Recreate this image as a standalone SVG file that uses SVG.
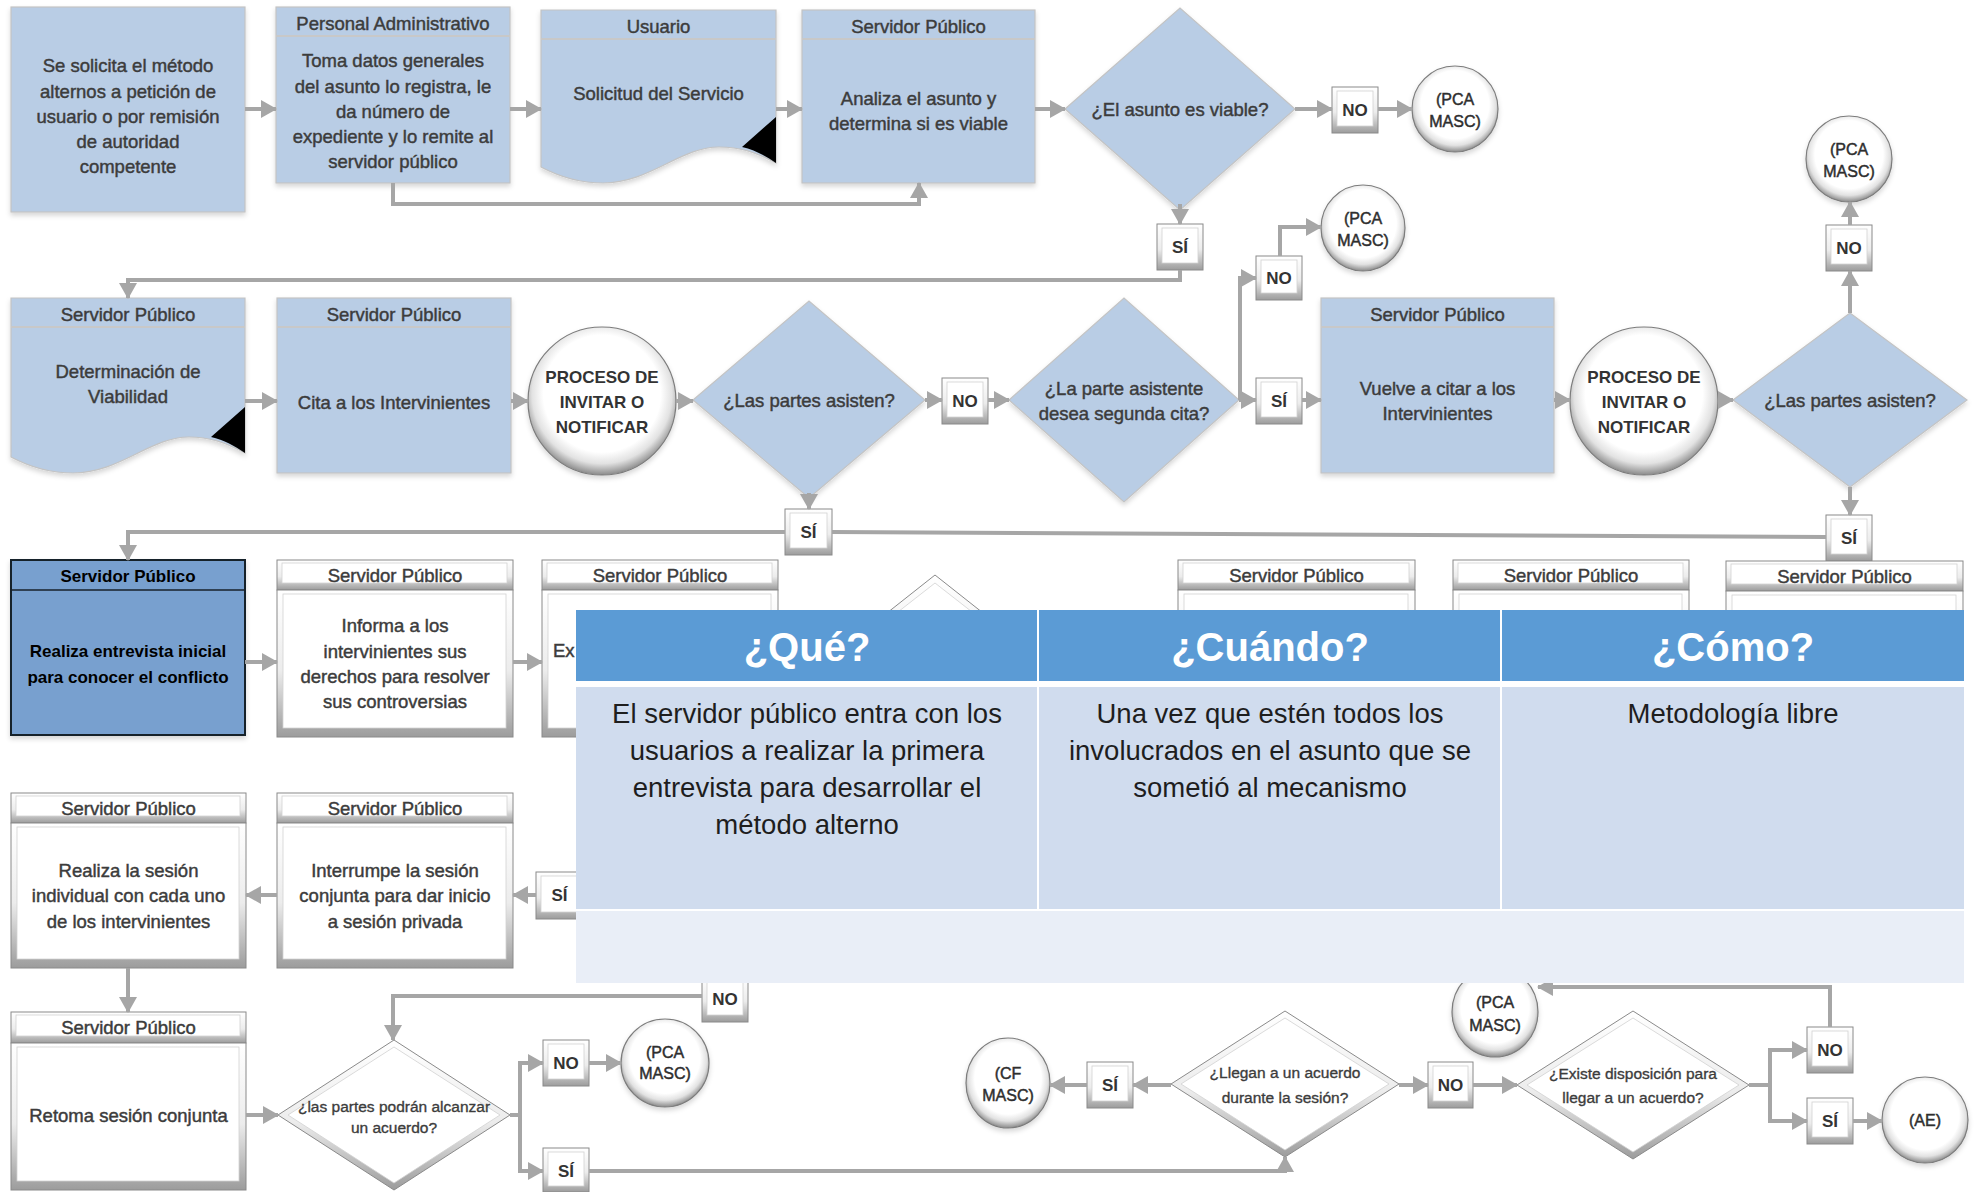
<svg xmlns="http://www.w3.org/2000/svg" width="1979" height="1192" viewBox="0 0 1979 1192">
  <defs>
    <style>
      .bx { fill:#b9cde5; stroke:#c4c4c4; stroke-width:1.2; }
      .sep { stroke:#c8c8c8; stroke-width:2; fill:none; }
      .bo { fill:url(#bev); stroke:#8a8a8a; stroke-width:1; }
      .bi { fill:#ffffff; stroke:#d2d2d2; stroke-width:0.8; }
      .orb { fill:url(#orb); stroke:#7c7c7c; stroke-width:1.2; }
      .t { font-family:"Liberation Sans", Arial, sans-serif; font-size:18.5px; fill:#3c3c3c; text-anchor:middle; stroke:#3c3c3c; stroke-width:0.45; }
      .tb { font-family:"Liberation Sans", Arial, sans-serif; font-size:17px; font-weight:bold; fill:#333333; text-anchor:middle; }
      .tc { font-family:"Liberation Sans", Arial, sans-serif; font-size:16px; fill:#2e2e2e; text-anchor:middle; stroke:#2e2e2e; stroke-width:0.45; }
      .ts { font-family:"Liberation Sans", Arial, sans-serif; font-size:15.5px; fill:#3c3c3c; text-anchor:middle; stroke:#3c3c3c; stroke-width:0.35; }
      .tk { font-family:"Liberation Sans", Arial, sans-serif; font-size:17px; font-weight:bold; fill:#000000; text-anchor:middle; }
      .th { font-family:"Liberation Sans", Arial, sans-serif; font-size:40px; font-weight:bold; fill:#ffffff; text-anchor:middle; }
      .tr { font-family:"Liberation Sans", Arial, sans-serif; font-size:27.5px; fill:#1e1e1e; text-anchor:middle; }
      .conn { stroke:#a6a6a6; stroke-width:4; fill:none; }
      .conn path.a { marker-end:url(#ah); }
    </style>
    <linearGradient id="bev" x1="0" y1="0" x2="0" y2="1">
      <stop offset="0" stop-color="#ffffff"/>
      <stop offset="0.55" stop-color="#ececec"/>
      <stop offset="1" stop-color="#9c9c9c"/>
    </linearGradient>
    <radialGradient id="orb" cx="0.5" cy="0.45" r="0.55">
      <stop offset="0" stop-color="#ffffff"/>
      <stop offset="0.72" stop-color="#ffffff"/>
      <stop offset="0.86" stop-color="#e2e2e2"/>
      <stop offset="1" stop-color="#8a8a8a"/>
    </radialGradient>
    <filter id="sh" x="-10%" y="-10%" width="120%" height="125%">
      <feDropShadow dx="0" dy="3" stdDeviation="2.5" flood-color="#000000" flood-opacity="0.16"/>
    </filter>
    <marker id="ah" markerUnits="userSpaceOnUse" markerWidth="16" markerHeight="18" refX="15" refY="9" orient="auto">
      <path d="M0,0 L16,9 L0,18 Z" fill="#a6a6a6"/>
    </marker>
  </defs>

  <rect width="1979" height="1192" fill="#ffffff"/>

  <!-- ===== Row 1 ===== -->
  <g id="solicitud-inicio">
    <rect class="bx" x="11" y="7" width="234" height="205" filter="url(#sh)"/>
    <text class="t" x="128" y="71.5">Se solicita el método</text>
    <text class="t" x="128" y="97.5">alternos a petición de</text>
    <text class="t" x="128" y="122.5">usuario o por remisión</text>
    <text class="t" x="128" y="147.5">de autoridad</text>
    <text class="t" x="128" y="172.5">competente</text>
  </g>

  <g id="personal-admin">
    <rect class="bx" x="276" y="7" width="234" height="176" filter="url(#sh)"/>
    <path class="sep" d="M276,36 H510"/>
    <text class="t" x="393" y="29.5">Personal Administrativo</text>
    <text class="t" x="393" y="66.5">Toma datos generales</text>
    <text class="t" x="393" y="92.5">del asunto lo registra, le</text>
    <text class="t" x="393" y="117.5">da número de</text>
    <text class="t" x="393" y="142.5">expediente y lo remite al</text>
    <text class="t" x="393" y="167.5">servidor público</text>
  </g>

  <g id="usuario-solicitud">
    <path class="bx" filter="url(#sh)" d="M541,10 H776 V163 C756,152 740,147 719,147 C680,147 650,183 603,183 C578,183 558,176 541,167 Z"/>
    <path class="sep" d="M541,39 H776"/>
    <path d="M776,117 L742,147 C755,150 766,156 776,163 Z" fill="#000000"/>
    <text class="t" x="658.5" y="32.5">Usuario</text>
    <text class="t" x="658.5" y="99.5">Solicitud del Servicio</text>
  </g>

  <g id="analiza-asunto">
    <rect class="bx" x="802" y="10" width="233" height="173" filter="url(#sh)"/>
    <path class="sep" d="M802,39 H1035"/>
    <text class="t" x="918.5" y="32.5">Servidor Público</text>
    <text class="t" x="918.5" y="104.5">Analiza el asunto y</text>
    <text class="t" x="918.5" y="129.5">determina si es viable</text>
  </g>

  <g id="dec-viable">
    <polygon class="bx" points="1065,109 1180,8 1295,109 1180,210" filter="url(#sh)"/>
    <text class="t" x="1180" y="115.5">¿El asunto es viable?</text>
  </g>

  <g id="no-viable">
    <rect class="bo" x="1332" y="87" width="46" height="46"/>
    <rect class="bi" x="1337" y="91" width="36" height="35"/>
    <text class="tb" x="1355" y="116">NO</text>
  </g>
  <g id="pca-1">
    <ellipse class="orb" cx="1455" cy="109" rx="43" ry="43" filter="url(#sh)"/>
    <text class="tc" x="1455" y="104.5">(PCA</text>
    <text class="tc" x="1455" y="126.5">MASC)</text>
  </g>
  <g id="si-viable">
    <rect class="bo" x="1157" y="224" width="46" height="46"/>
    <rect class="bi" x="1162" y="228" width="36" height="35"/>
    <text class="tb" x="1180" y="253">SÍ</text>
  </g>

  <!-- ===== Row 2 ===== -->
  <g id="det-viabilidad">
    <path class="bx" filter="url(#sh)" d="M11,298 H245 V453 C225,442 209,437 189,437 C150,437 120,473 73,473 C48,473 28,466 11,457 Z"/>
    <path class="sep" d="M11,327 H245"/>
    <path d="M245,407 L211,437 C224,440 235,446 245,453 Z" fill="#000000"/>
    <text class="t" x="128" y="320.5">Servidor Público</text>
    <text class="t" x="128" y="377.5">Determinación de</text>
    <text class="t" x="128" y="402.5">Viabilidad</text>
  </g>

  <g id="cita-intervinientes">
    <rect class="bx" x="277" y="298" width="234" height="175" filter="url(#sh)"/>
    <path class="sep" d="M277,327 H511"/>
    <text class="t" x="394" y="320.5">Servidor Público</text>
    <text class="t" x="394" y="408.5">Cita a los Intervinientes</text>
  </g>

  <g id="proceso-1">
    <ellipse class="orb" cx="602" cy="401" rx="74" ry="74" filter="url(#sh)"/>
    <text class="tb" x="602" y="382.5">PROCESO DE</text>
    <text class="tb" x="602" y="407.5">INVITAR O</text>
    <text class="tb" x="602" y="432.5">NOTIFICAR</text>
  </g>

  <g id="dec-asisten-1">
    <polygon class="bx" points="693,400 809,301 925,400 809,498" filter="url(#sh)"/>
    <text class="t" x="809" y="406.5">¿Las partes asisten?</text>
  </g>

  <g id="no-asisten-1">
    <rect class="bo" x="942" y="378" width="46" height="46"/>
    <rect class="bi" x="947" y="382" width="36" height="35"/>
    <text class="tb" x="965" y="407">NO</text>
  </g>

  <g id="dec-segunda-cita">
    <polygon class="bx" points="1009,400 1124,298 1239,400 1124,502" filter="url(#sh)"/>
    <text class="t" x="1124" y="394.5">¿La parte asistente</text>
    <text class="t" x="1124" y="419.5">desea segunda cita?</text>
  </g>

  <g id="no-segunda">
    <rect class="bo" x="1256" y="256" width="46" height="44"/>
    <rect class="bi" x="1261" y="260" width="36" height="33"/>
    <text class="tb" x="1279" y="284">NO</text>
  </g>
  <g id="pca-2">
    <ellipse class="orb" cx="1363" cy="228" rx="42" ry="43" filter="url(#sh)"/>
    <text class="tc" x="1363" y="223.5">(PCA</text>
    <text class="tc" x="1363" y="245.5">MASC)</text>
  </g>
  <g id="si-segunda">
    <rect class="bo" x="1256" y="378" width="46" height="46"/>
    <rect class="bi" x="1261" y="382" width="36" height="35"/>
    <text class="tb" x="1279" y="407">SÍ</text>
  </g>

  <g id="vuelve-citar">
    <rect class="bx" x="1321" y="298" width="233" height="175" filter="url(#sh)"/>
    <path class="sep" d="M1321,327 H1554"/>
    <text class="t" x="1437.5" y="320.5">Servidor Público</text>
    <text class="t" x="1437.5" y="394.5">Vuelve a citar a los</text>
    <text class="t" x="1437.5" y="419.5">Intervinientes</text>
  </g>

  <g id="proceso-2">
    <ellipse class="orb" cx="1644" cy="401" rx="74" ry="74" filter="url(#sh)"/>
    <text class="tb" x="1644" y="382.5">PROCESO DE</text>
    <text class="tb" x="1644" y="407.5">INVITAR O</text>
    <text class="tb" x="1644" y="432.5">NOTIFICAR</text>
  </g>

  <g id="dec-asisten-2">
    <polygon class="bx" points="1733,400 1850,313 1967,400 1850,487" filter="url(#sh)"/>
    <text class="t" x="1850" y="406.5">¿Las partes asisten?</text>
  </g>

  <g id="no-asisten-2">
    <rect class="bo" x="1826" y="225" width="46" height="46"/>
    <rect class="bi" x="1831" y="229" width="36" height="35"/>
    <text class="tb" x="1849" y="254">NO</text>
  </g>
  <g id="pca-3">
    <ellipse class="orb" cx="1849" cy="159" rx="43" ry="43" filter="url(#sh)"/>
    <text class="tc" x="1849" y="154.5">(PCA</text>
    <text class="tc" x="1849" y="176.5">MASC)</text>
  </g>
  <g id="si-asisten-2">
    <rect class="bo" x="1826" y="515" width="46" height="46"/>
    <rect class="bi" x="1831" y="519" width="36" height="35"/>
    <text class="tb" x="1849" y="544">SÍ</text>
  </g>
  <g id="si-asisten-1">
    <rect class="bo" x="785" y="509" width="47" height="46"/>
    <rect class="bi" x="790" y="513" width="37" height="35"/>
    <text class="tb" x="808.5" y="538">SÍ</text>
  </g>

  <!-- ===== Row 3 ===== -->
  <g id="entrevista-inicial">
    <rect x="11" y="560" width="234" height="175" fill="#78a0cf" stroke="#17202a" stroke-width="2" filter="url(#sh)"/>
    <path d="M11,590 H245" stroke="#17202a" stroke-width="1.5"/>
    <text class="tk" x="128" y="582">Servidor Público</text>
    <text class="tk" x="128" y="656.5">Realiza entrevista inicial</text>
    <text class="tk" x="128" y="682.5">para conocer el conflicto</text>
  </g>

  <g id="informa-derechos">
    <rect class="bo" x="277" y="560" width="236" height="30"/>
    <rect class="bi" x="282" y="563" width="225" height="20"/>
    <rect class="bo" x="277" y="590" width="236" height="147"/>
    <rect class="bi" x="283" y="594" width="223" height="134"/>
    <text class="t" x="395" y="582">Servidor Público</text>
    <text class="t" x="395" y="631.5">Informa a los</text>
    <text class="t" x="395" y="657.5">intervinientes sus</text>
    <text class="t" x="395" y="682.5">derechos para resolver</text>
    <text class="t" x="395" y="707.5">sus controversias</text>
  </g>

  <g id="explica">
    <rect class="bo" x="542" y="560" width="236" height="30"/>
    <rect class="bi" x="547" y="563" width="225" height="20"/>
    <rect class="bo" x="542" y="590" width="236" height="147"/>
    <rect class="bi" x="548" y="594" width="223" height="134"/>
    <text class="t" x="660" y="582">Servidor Público</text>
    <text class="t" x="553" y="656.5" style="text-anchor:start">Ex</text>
  </g>

  <g id="dec-oculta">
    <polygon class="bo" points="935,575 1045,662 935,749 825,662"/>
    <polygon class="bi" points="935,583 1036,662 935,741 834,662"/>
  </g>

  <g id="servidor-a">
    <rect class="bo" x="1178" y="560" width="237" height="30"/>
    <rect class="bi" x="1183" y="563" width="226" height="20"/>
    <rect class="bo" x="1178" y="590" width="237" height="147"/>
    <rect class="bi" x="1184" y="594" width="224" height="134"/>
    <text class="t" x="1296.5" y="582">Servidor Público</text>
  </g>
  <g id="servidor-b">
    <rect class="bo" x="1453" y="560" width="236" height="30"/>
    <rect class="bi" x="1458" y="563" width="225" height="20"/>
    <rect class="bo" x="1453" y="590" width="236" height="147"/>
    <rect class="bi" x="1459" y="594" width="223" height="134"/>
    <text class="t" x="1571" y="582">Servidor Público</text>
  </g>
  <g id="servidor-c">
    <rect class="bo" x="1726" y="561" width="237" height="30"/>
    <rect class="bi" x="1731" y="564" width="226" height="20"/>
    <rect class="bo" x="1726" y="591" width="237" height="147"/>
    <rect class="bi" x="1732" y="595" width="224" height="134"/>
    <text class="t" x="1844.5" y="583">Servidor Público</text>
  </g>

  <!-- ===== Row 4 ===== -->
  <g id="sesion-individual">
    <rect class="bo" x="11" y="793" width="235" height="30"/>
    <rect class="bi" x="16" y="796" width="224" height="20"/>
    <rect class="bo" x="11" y="823" width="235" height="145"/>
    <rect class="bi" x="17" y="827" width="222" height="132"/>
    <text class="t" x="128.5" y="815">Servidor Público</text>
    <text class="t" x="128.5" y="876.5">Realiza la sesión</text>
    <text class="t" x="128.5" y="901.5">individual con cada uno</text>
    <text class="t" x="128.5" y="927.5">de los intervinientes</text>
  </g>

  <g id="interrumpe-sesion">
    <rect class="bo" x="277" y="793" width="236" height="30"/>
    <rect class="bi" x="282" y="796" width="225" height="20"/>
    <rect class="bo" x="277" y="823" width="236" height="145"/>
    <rect class="bi" x="283" y="827" width="223" height="132"/>
    <text class="t" x="395" y="815">Servidor Público</text>
    <text class="t" x="395" y="876.5">Interrumpe la sesión</text>
    <text class="t" x="395" y="901.5">conjunta para dar inicio</text>
    <text class="t" x="395" y="927.5">a sesión privada</text>
  </g>

  <g id="si-privada">
    <rect class="bo" x="536" y="872" width="46" height="47"/>
    <rect class="bi" x="541" y="876" width="36" height="36"/>
    <text class="tb" x="559.5" y="901">SÍ</text>
  </g>

  <g id="retoma-sesion">
    <rect class="bo" x="11" y="1012" width="235" height="31"/>
    <rect class="bi" x="16" y="1015" width="224" height="21"/>
    <rect class="bo" x="11" y="1043" width="235" height="147"/>
    <rect class="bi" x="17" y="1047" width="222" height="134"/>
    <text class="t" x="128.5" y="1033.5">Servidor Público</text>
    <text class="t" x="128.5" y="1121.5">Retoma sesión conjunta</text>
  </g>

  <g id="dec-alcanzar">
    <polygon class="bo" points="278,1115 394,1040 510,1115 394,1190"/>
    <polygon class="bi" points="288,1115 394,1047 500,1115 394,1183"/>
    <text class="ts" x="394" y="1112">¿las partes podrán alcanzar</text>
    <text class="ts" x="394" y="1133">un acuerdo?</text>
  </g>

  <g id="no-alcanzar">
    <rect class="bo" x="543" y="1040" width="46" height="46"/>
    <rect class="bi" x="548" y="1044" width="36" height="35"/>
    <text class="tb" x="566" y="1069">NO</text>
  </g>
  <g id="pca-4">
    <ellipse class="orb" cx="665" cy="1063" rx="44" ry="44" filter="url(#sh)"/>
    <text class="tc" x="665" y="1058">(PCA</text>
    <text class="tc" x="665" y="1079">MASC)</text>
  </g>
  <g id="si-alcanzar">
    <rect class="bo" x="543" y="1148" width="46" height="44"/>
    <rect class="bi" x="548" y="1152" width="36" height="34"/>
    <text class="tb" x="566" y="1177">SÍ</text>
  </g>

  <g id="no-retorno">
    <rect class="bo" x="702" y="976" width="46" height="46"/>
    <rect class="bi" x="707" y="980" width="36" height="35"/>
    <text class="tb" x="725" y="1005">NO</text>
  </g>

  <g id="dec-llegan">
    <polygon class="bo" points="1171,1084 1285,1011 1399,1084 1285,1157"/>
    <polygon class="bi" points="1181,1084 1285,1018 1389,1084 1285,1150"/>
    <text class="ts" x="1285" y="1078">¿Llegan a un acuerdo</text>
    <text class="ts" x="1285" y="1103">durante la sesión?</text>
  </g>

  <g id="si-llegan">
    <rect class="bo" x="1087" y="1062" width="46" height="46"/>
    <rect class="bi" x="1092" y="1066" width="36" height="35"/>
    <text class="tb" x="1110" y="1091">SÍ</text>
  </g>
  <g id="cf-masc">
    <ellipse class="orb" cx="1008" cy="1083" rx="42" ry="45" filter="url(#sh)"/>
    <text class="tc" x="1008" y="1079">(CF</text>
    <text class="tc" x="1008" y="1101">MASC)</text>
  </g>
  <g id="no-llegan">
    <rect class="bo" x="1428" y="1062" width="45" height="46"/>
    <rect class="bi" x="1433" y="1066" width="35" height="35"/>
    <text class="tb" x="1450.5" y="1091">NO</text>
  </g>

  <g id="pca-5">
    <ellipse class="orb" cx="1495" cy="1012" rx="43" ry="45" filter="url(#sh)"/>
    <text class="tc" x="1495" y="1008">(PCA</text>
    <text class="tc" x="1495" y="1031">MASC)</text>
  </g>

  <g id="dec-disposicion">
    <polygon class="bo" points="1517,1085 1633,1011 1749,1085 1633,1159"/>
    <polygon class="bi" points="1527,1085 1633,1018 1739,1085 1633,1152"/>
    <text class="ts" x="1633" y="1079">¿Existe disposición para</text>
    <text class="ts" x="1633" y="1103">llegar a un acuerdo?</text>
  </g>

  <g id="no-disposicion">
    <rect class="bo" x="1807" y="1027" width="46" height="46"/>
    <rect class="bi" x="1812" y="1031" width="36" height="35"/>
    <text class="tb" x="1830" y="1056">NO</text>
  </g>
  <g id="si-disposicion">
    <rect class="bo" x="1807" y="1098" width="46" height="46"/>
    <rect class="bi" x="1812" y="1102" width="36" height="35"/>
    <text class="tb" x="1830" y="1127">SÍ</text>
  </g>
  <g id="ae">
    <ellipse class="orb" cx="1925" cy="1120" rx="43" ry="43" filter="url(#sh)"/>
    <text class="tc" x="1925" y="1126">(AE)</text>
  </g>

  <!-- ===== Connectors ===== -->
  <g id="connectors" class="conn">
    <path class="a" d="M245,109 H276"/>
    <path class="a" d="M510,109 H541"/>
    <path class="a" d="M776,109 H802"/>
    <path class="a" d="M393,183 V204 H919 V183"/>
    <path class="a" d="M1035,109 H1065"/>
    <path class="a" d="M1295,109 H1332"/>
    <path class="a" d="M1378,109 H1412"/>
    <path class="a" d="M1180,204 V224"/>
    <path class="a" d="M1180,270 V280 H128 V298"/>

    <path class="a" d="M245,401 H277"/>
    <path class="a" d="M511,401 H528"/>
    <path class="a" d="M676,401 H693"/>
    <path class="a" d="M925,400 H942"/>
    <path class="a" d="M988,400 H1009"/>
    <path class="a" d="M1239,400 H1256"/>
    <path class="a" d="M1240,400 V278 H1256"/>
    <path class="a" d="M1280,256 V227 H1321"/>
    <path class="a" d="M1302,400 H1321"/>
    <path class="a" d="M1554,400 H1570"/>
    <path class="a" d="M1718,400 H1733"/>
    <path class="a" d="M1850,313 V271"/>
    <path class="a" d="M1850,225 V202"/>
    <path class="a" d="M1850,487 V515"/>
    <path class="a" d="M809,493 V509"/>
    <path d="M1826,537 L832,532"/>
    <path class="a" d="M785,532 H128 V560"/>

    <path class="a" d="M245,662 H277"/>
    <path class="a" d="M513,662 H542"/>

    <path class="a" d="M536,895 H513"/>
    <path class="a" d="M277,895 H246"/>
    <path class="a" d="M128,968 V1012"/>
    <path class="a" d="M246,1115 H278"/>
    <path d="M510,1115 H520"/>
    <path class="a" d="M520,1115 V1063 H543"/>
    <path class="a" d="M520,1115 V1171 H543"/>
    <path class="a" d="M589,1063 H621"/>
    <path class="a" d="M702,996 H393 V1040"/>
    <path class="a" d="M589,1171 H1285 V1157"/>
    <path class="a" d="M1171,1085 H1133"/>
    <path class="a" d="M1087,1085 H1050"/>
    <path class="a" d="M1399,1085 H1428"/>
    <path class="a" d="M1473,1085 H1517"/>
    <path d="M1749,1085 H1770"/>
    <path class="a" d="M1770,1085 V1050 H1807"/>
    <path class="a" d="M1770,1085 V1121 H1807"/>
    <path class="a" d="M1853,1121 H1882"/>
    <path class="a" d="M1830,1027 V987 H1538"/>
  </g>

  <!-- ===== Summary table ===== -->
  <g id="tabla">
    <rect x="576" y="610" width="1388" height="71" fill="#5b9bd5"/>
    <rect x="576" y="681" width="1388" height="6" fill="#ffffff"/>
    <rect x="576" y="687" width="1388" height="222" fill="#d0dcee"/>
    <rect x="576" y="909" width="1388" height="2" fill="#ffffff"/>
    <rect x="576" y="911" width="1388" height="72" fill="#e9eef7"/>
    <path d="M1038,610 V909 M1501,610 V909" stroke="#ffffff" stroke-width="2"/>
    <text class="th" x="807" y="661">¿Qué?</text>
    <text class="th" x="1270" y="661">¿Cuándo?</text>
    <text class="th" x="1733" y="661">¿Cómo?</text>
    <text class="tr" x="807" y="723">El servidor público entra con los</text>
    <text class="tr" x="807" y="760">usuarios a realizar la primera</text>
    <text class="tr" x="807" y="797">entrevista para desarrollar el</text>
    <text class="tr" x="807" y="834">método alterno</text>
    <text class="tr" x="1270" y="723">Una vez que estén todos los</text>
    <text class="tr" x="1270" y="760">involucrados en el asunto que se</text>
    <text class="tr" x="1270" y="797">sometió al mecanismo</text>
    <text class="tr" x="1733" y="723">Metodología libre</text>
  </g>
</svg>
